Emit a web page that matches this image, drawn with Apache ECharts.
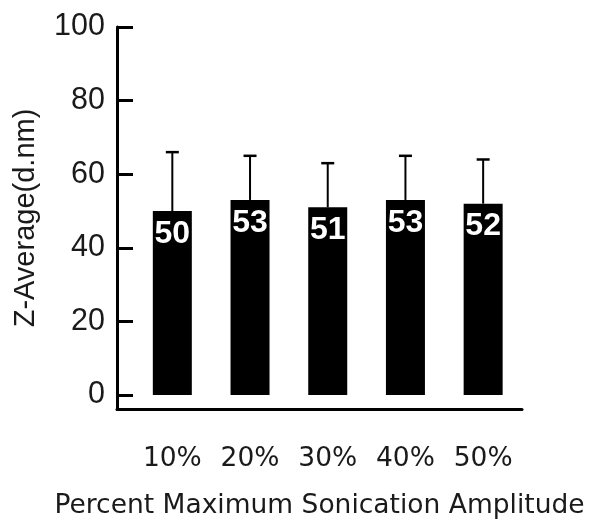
<!DOCTYPE html>
<html>
<head>
<meta charset="utf-8">
<script src="https://cdn.jsdelivr.net/npm/echarts@6/dist/echarts.min.js"></script>
<style>html,body{margin:0;padding:0;background:#fff;}#c{width:591px;height:525px;}</style>
</head>
<body>
<div id="c"></div>
<script>
const categories = ['10%', '20%', '30%', '40%', '50%'];
const means = [50, 53, 51, 53, 52];
const errors = [16, 12, 12, 12, 12];
const yTicks = [0, 20, 40, 60, 80, 100];

const positions = categories.map((c, i) => i + 1);
const barData = means.map((v, i) => [positions[i], v]);
const errData = means.map((v, i) => [positions[i], v, v + errors[i]]);

const chart = echarts.init(document.getElementById('c'), null, {renderer: 'canvas'});
chart.setOption({
  animation: false,
  backgroundColor: '#fff',
  grid: {left: 117, top: 27, right: 69, bottom: 116, containLabel: false},
  xAxis: {
    type: 'value',
    min: 0.288,
    max: 5.5,
    splitLine: {show: false},
    axisLine: {show: true, onZero: false, lineStyle: {color: '#000', width: 3}},
    axisTick: {show: false},
    axisLabel: {
      customValues: positions,
      formatter: (v) => categories[Math.round(v) - 1] || '',
      fontFamily: 'DejaVu Sans', fontSize: 26.5, color: '#1a1a1a', margin: 37
    },
    name: 'Percent Maximum Sonication Amplitude',
    nameLocation: 'middle',
    nameGap: 84,
    nameTextStyle: {fontFamily: 'DejaVu Sans', fontSize: 26.5, color: '#1a1a1a'}
  },
  yAxis: {
    type: 'value',
    min: -3.8,
    max: 100,
    splitLine: {show: false},
    axisLine: {show: true, onZero: false, lineStyle: {color: '#000', width: 3}},
    axisTick: {show: true, inside: true, length: 16, customValues: yTicks, lineStyle: {color: '#000', width: 3}},
    axisLabel: {customValues: yTicks, fontFamily: 'Liberation Sans', fontSize: 30.5, color: '#1a1a1a', margin: 12},
    name: 'Z-Average(d.nm)',
    nameLocation: 'middle',
    nameGap: 77,
    nameTextStyle: {fontFamily: 'Liberation Sans', fontSize: 29, color: '#1a1a1a'}
  },
  series: [
    {
      type: 'custom',
      z: 1,
      renderItem: (params, api) => {
        const top = api.coord([api.value(0), api.value(2)]);
        const bot = api.coord([api.value(0), api.value(1)]);
        const hw = 6.5;
        return {
          type: 'group',
          children: [
            {type: 'line', shape: {x1: top[0], y1: top[1], x2: bot[0], y2: bot[1]}, style: {stroke: '#000', lineWidth: 2}},
            {type: 'line', shape: {x1: top[0] - hw, y1: top[1], x2: top[0] + hw, y2: top[1]}, style: {stroke: '#000', lineWidth: 2.5}}
          ]
        };
      },
      data: errData
    },
    {
      type: 'bar',
      z: 2,
      barWidth: 39,
      itemStyle: {color: '#000'},
      label: {
        show: true,
        position: 'insideTop',
        distance: 7,
        formatter: (p) => p.value[1],
        color: '#fff',
        fontFamily: 'Liberation Sans',
        fontWeight: 'bold',
        fontSize: 32,
        textBorderColor: '#000',
        textBorderWidth: 1.5
      },
      data: barData
    }
  ]
});
</script>
</body>
</html>
